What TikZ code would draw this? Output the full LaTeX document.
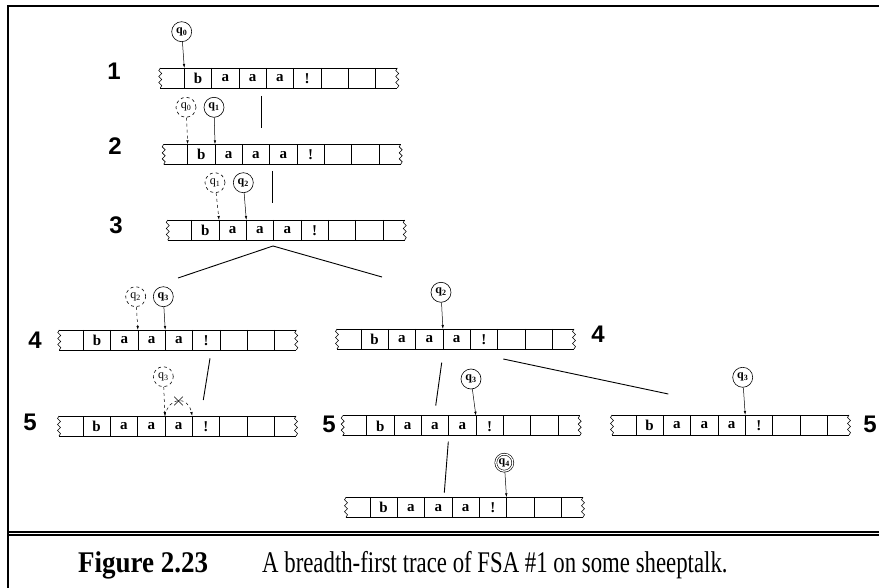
\documentclass[tikz,border=0pt]{standalone}
\usepackage{fontspec}
\setmainfont{Liberation Serif}
\newfontfamily\labelfont{Liberation Sans}
\usetikzlibrary{arrows.meta,shapes.misc}

\newcommand{\sheeptape}[3]{%
  \begin{scope}[shift={(#2,#3)}]
    \draw[tapeline] (0,0) -- (237,0) (0,20) -- (237,20);
    \draw[tapeline] (0,0) -- (-1.5,2.5) -- (1.5,5.5) -- (-1.5,8.5) -- (1.5,11.5) -- (-1.5,14.5) -- (1.5,17.5) -- (0,20);
    \draw[tapeline] (237,0) -- (235.5,2.5) -- (238.5,5.5) -- (235.5,8.5) -- (238.5,11.5) -- (235.5,14.5) -- (238.5,17.5) -- (237,20);
    \foreach \k in {0,...,7}
      \draw[tapeline] (24+27.3*\k,0) coordinate (#1-\k) -- ++(0,20);
    \foreach \sym [count=\i from 0] in {b,a,a,a,!}
      \node[tapesym] (#1-s\i) at (37.65+27.3*\i,10.5) {\sym};
  \end{scope}}

\begin{document}
\begin{tikzpicture}[x=1pt,y=-1pt,
  tapeline/.style={line width=0.6pt},
  tapesym/.style={font=\bfseries\fontsize{15}{15}\selectfont, inner sep=0pt},
  qnode/.style={circle, draw, line width=0.6pt, minimum size=20pt, inner sep=0pt, font=\bfseries\fontsize{12}{12}\selectfont},
  oldq/.style={qnode, dashed, font=\fontsize{12}{12}\selectfont},
  acceptq/.style={qnode, double, double distance=1.3pt, minimum size=17pt},
  rownum/.style={font=\labelfont\bfseries\fontsize{24}{24}\selectfont, inner sep=0pt},
  headarrow/.style={-{Latex[length=4pt,width=2.5pt]}, line width=0.5pt},
  branch/.style={line width=0.9pt},
  borderline/.style={line width=2pt}]
\useasboundingbox (0,0) rectangle (879,588);
\draw[borderline] (8,588) -- (8,6) -- (879,6);
\draw[borderline] (8,531.7) -- (879,531.7) (8,535) -- (879,535);

\sheeptape{t1}{160.3}{68}
\sheeptape{t2}{163.7}{144.3}
\sheeptape{t3}{167.7}{220}
\sheeptape{t4a}{59.3}{330}
\sheeptape{t4b}{337}{329}
\sheeptape{t5a}{59}{416}
\sheeptape{t5b}{342.7}{415.7}
\sheeptape{t5c}{612}{415}
\sheeptape{t6}{346}{497.3}

\node[rownum] (n1) at (114,71) {1};
\node[rownum] (n2) at (115,146) {2};
\node[rownum] (n3) at (116,225.5) {3};
\node[rownum] (n4a) at (35,340) {4};
\node[rownum] (n4b) at (598,334) {4};
\node[rownum] (n5a) at (30,422) {5};
\node[rownum] (n5b) at (329,424) {5};
\node[rownum] (n5c) at (870,424) {5};

\node[qnode] (q0) at (181.7,31.7) {q\textsubscript{0}};
\draw[headarrow] (q0) -- (t1-0);
\node[oldq] (q0b) at (186,107.3) {q\textsubscript{0}};
\node[qnode] (q1) at (214,107.3) {q\textsubscript{1}};
\draw[headarrow, dashed] (q0b) -- (t2-0);
\draw[headarrow] (q1) -- (t2-1);
\node[oldq] (q1b) at (215,182.7) {q\textsubscript{1}};
\node[qnode] (q2) at (243.3,182.7) {q\textsubscript{2}};
\draw[headarrow, dashed] (q1b) -- (t3-1);
\draw[headarrow] (q2) -- (t3-2);
\node[oldq] (q2b) at (135.7,296.7) {q\textsubscript{2}};
\node[qnode] (q3) at (163.3,296.7) {q\textsubscript{3}};
\draw[headarrow, dashed] (q2b) -- (t4a-2);
\draw[headarrow] (q3) -- (t4a-3);
\node[qnode] (q2c) at (441,292.3) {q\textsubscript{2}};
\draw[headarrow] (q2c) -- (t4b-3);
\node[oldq] (q3b) at (163.3,376.7) {q\textsubscript{3}};
\draw[headarrow, dashed] (q3b) -- (t5a-3);
\draw[headarrow, dashed] (t5a-3) .. controls +(4,-20) and +(-4,-20) .. node[cross out, draw, line width=0.6pt, minimum size=8pt, inner sep=0pt, solid] (dead) {} (t5a-4);
\node[qnode] (q3c) at (471,379) {q\textsubscript{3}};
\draw[headarrow] (q3c) -- (t5b-4);
\node[qnode] (q3d) at (742.7,377.3) {q\textsubscript{3}};
\draw[headarrow] (q3d) -- (t5c-4);
\node[acceptq] (q4) at (504.3,462.7) {q\textsubscript{4}};
\draw[headarrow] (q4) -- (t6-5);

\coordinate (b12) at (261,96);
\coordinate (e12) at (261,128);
\draw[branch] (b12) -- (e12);
\coordinate (b23) at (272.3,171);
\coordinate (e23) at (272.3,203.3);
\draw[branch] (b23) -- (e23);
\coordinate (split) at (273,246);
\coordinate (e34a) at (178,278);
\coordinate (e34b) at (382,277);
\draw[branch] (e34a) -- (split) -- (e34b);
\coordinate (b45a) at (210,358.3);
\coordinate (e45a) at (203.3,400);
\draw[branch] (b45a) -- (e45a);
\coordinate (b45b) at (441.7,362.7);
\coordinate (e45b) at (435.7,405.7);
\draw[branch] (b45b) -- (e45b);
\coordinate (b45c) at (503.3,359);
\coordinate (e45c) at (668.3,394);
\draw[branch] (b45c) -- (e45c);
\coordinate (b56) at (448.3,441.7);
\coordinate (e56) at (444.3,492.7);
\draw[branch] (b56) -- (e56);

\node[anchor=base west, inner sep=0pt, font=\bfseries\fontsize{30}{30}\selectfont] (fignum) at (78,572) {\scalebox{0.9}[1]{Figure 2.23}};
\node[anchor=base west, inner sep=0pt, font=\fontsize{30}{30}\selectfont] (figtext) at (262,572) {\scalebox{0.76}[1]{A breadth-first trace of FSA \#1 on some sheeptalk.}};
\end{tikzpicture}
\end{document}
